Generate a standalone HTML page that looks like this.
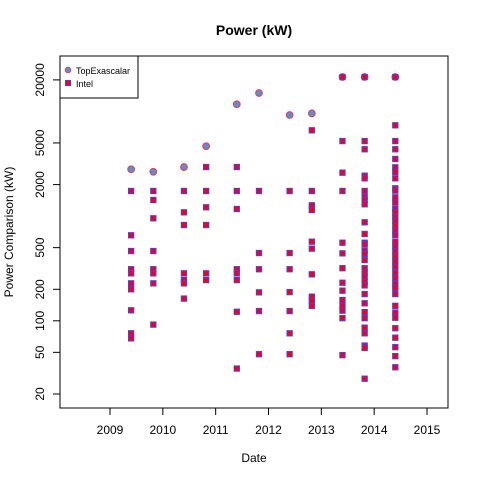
<!DOCTYPE html>
<html><head><meta charset="utf-8"><style>
body{margin:0;background:#fff;}
svg{display:block;font-family:"Liberation Sans",sans-serif;}
</style></head><body>
<svg id="chart" width="480" height="480">
<rect width="480" height="480" fill="#fff"/>
<text x="254" y="35" text-anchor="middle" font-weight="bold" font-size="14">Power (kW)</text>
<text x="254" y="462" text-anchor="middle" font-size="12">Date</text>
<text x="0" y="0" transform="translate(13,232) rotate(-90)" text-anchor="middle" font-size="12">Power Comparison (kW)</text>
<rect x="60" y="56" width="388" height="352" fill="none" stroke="#000" stroke-width="1"/>
<g id="axes"></g>
<g id="marks"></g>
<g>
<rect x="60" y="56" width="78" height="42" fill="#fff" stroke="#000"/>
<circle cx="68" cy="70" r="2.8" fill="#4f94d8" stroke="#f04050" stroke-width="1"/>
<text x="76" y="74" font-size="9">TopExascalar</text>
<rect x="65.5" y="80.5" width="5" height="5" fill="#f00" stroke="#4a3cf0" stroke-width="1"/>
<text x="76" y="87" font-size="9">Intel</text>
</g>
</svg>
<script>
const xTicks = [2009, 2010, 2011, 2012, 2013, 2014, 2015];
const yTicks = [20, 50, 100, 200, 500, 2000, 5000, 20000];
const topDates = [2009.4, 2009.82, 2010.4, 2010.82, 2011.4, 2011.82, 2012.4, 2012.82, 2013.4, 2013.82, 2014.4];
const topValues = [2800, 2650, 2940, 4650, 11700, 15000, 9240, 9590, 21300, 21300, 21300];
const intelDates = [2009.4, 2009.82, 2010.4, 2010.82, 2011.4, 2011.82, 2012.4, 2012.82, 2013.4, 2013.82, 2014.4];
const intelValues = [
 [1738, 656, 464, 311, 284, 228, 200, 126, 76, 68],
 [1738, 1425, 953, 464, 311, 284, 228, 92],
 [1738, 1087, 822, 284, 245, 228, 163],
 [2944, 1738, 1214, 822, 284, 245],
 [2944, 1738, 1169, 311, 284, 245, 122, 35],
 [1738, 444, 311, 187, 124, 48],
 [1738, 444, 311, 188, 124, 76, 48],
 [6600, 1738, 1268, 1143, 570, 489, 278, 170, 156, 139],
 [21300, 5210, 2600, 1738, 557, 441, 318, 231, 194, 158, 139, 125, 106, 47],
 [21300, 5210, 4350, 2432, 2296, 1738, 1532, 1425, 1297, 873, 675, 557, 538, 467, 435, 381, 318, 291, 264, 236, 218, 180, 147, 121, 106, 86, 76, 58, 55, 28],
 [21300, 7370, 5210, 4350, 3514, 2924, 2637, 2296, 1843, 1750, 1512, 1343, 1169, 1087, 987, 904, 809, 726, 660, 570, 510, 457, 409, 367, 329, 288, 255, 225, 205, 180, 139, 120, 107, 85, 69, 56, 46, 36]
];
const NS = "http://www.w3.org/2000/svg";
function xs(d){ return 110 + (d - 2009) * (317 / 6); }
function ys(v){ return 394 - (Math.log10(v) - Math.log10(20)) * 104.7; }
function mk(tag, attrs, parent){ const e = document.createElementNS(NS, tag); for (const k in attrs) e.setAttribute(k, attrs[k]); parent.appendChild(e); return e; }
const axes = document.getElementById('axes');
const marks = document.getElementById('marks');
mk('line', {x1: xs(2009), x2: xs(2015), y1: 408, y2: 408, stroke: '#000'}, axes);
xTicks.forEach(t => {
  const l = mk('line', {x1: xs(t), x2: xs(t), y1: 408, y2: 415, stroke: '#000'}, axes);
  
  
  const tx = mk('text', {x: xs(t), y: 434, 'text-anchor': 'middle', 'font-size': 12}, axes);
  tx.textContent = t;
  
  
});
mk('line', {x1: 60, x2: 60, y1: ys(20), y2: ys(20000), stroke: '#000'}, axes);
yTicks.forEach(t => {
  const y = ys(t);
  const l = mk('line', {x1: 53, x2: 60, y1: y, y2: y, stroke: '#000'}, axes);
  
  
  const tx = mk('text', {x: 0, y: 0, transform: `translate(44,${y}) rotate(-90)`, 'text-anchor': 'middle', 'font-size': 12}, axes);
  tx.textContent = t;
  
  
});
topDates.forEach((d, i) => {
  const c = mk('circle', {cx: xs(d), cy: ys(topValues[i]), r: 3.3, fill: '#4f94d8', stroke: '#f04050', 'stroke-width': 1.2}, marks);
  
  
});
intelDates.forEach((d, i) => {
  intelValues[i].forEach(v => {
    const s = mk('rect', {x: xs(d) - 2.6, y: ys(v) - 2.6, width: 5.2, height: 5.2, fill: '#f00', stroke: '#4a3cf0', 'stroke-width': 1.1}, marks);
    
    
  });
});
</script>
</body></html>
